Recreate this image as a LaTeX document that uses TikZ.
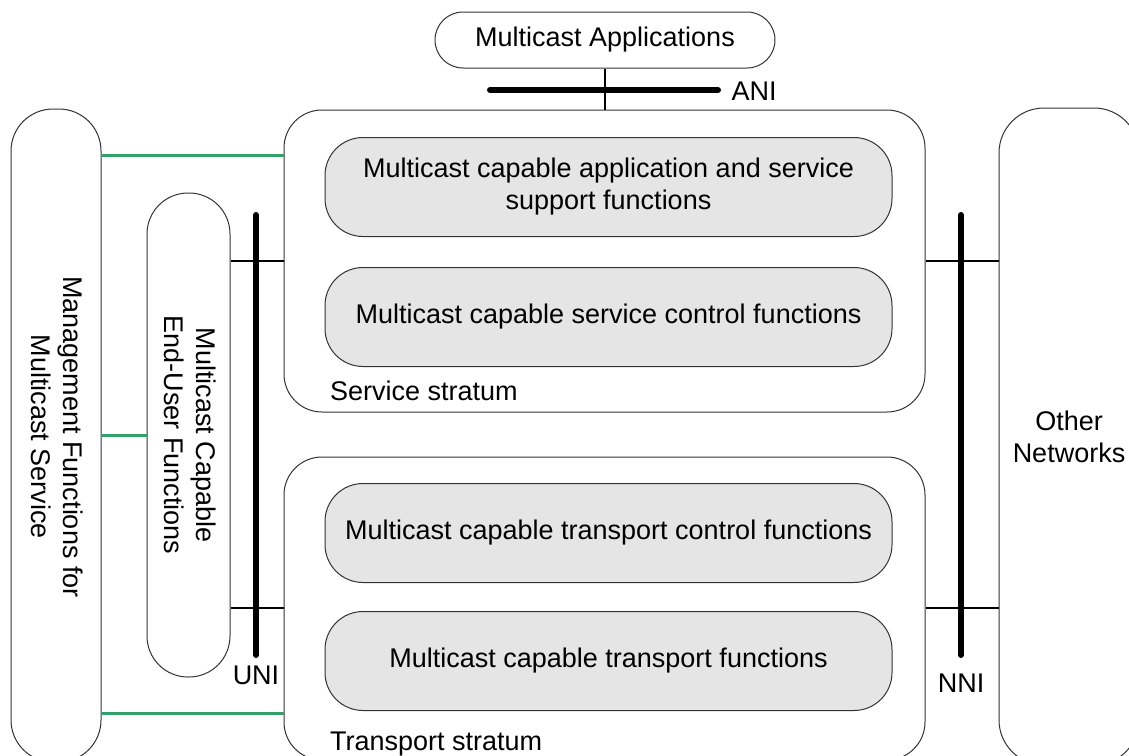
\documentclass[tikz,border=0pt]{standalone}
\usepackage{fontspec}
\setmainfont{Liberation Sans}
\definecolor{mgmtgreen}{RGB}{50,160,105}

\tikzset{%
  every box/.style={
    draw=black!80,
    line width=1pt,
    inner sep=0pt,
    align=center
  },
  func box/.style={
    every box,
    fill=black!10,
    rounded corners=38,
    minimum width=567,
    minimum height=99
  },
  stratum/.style={
    every box,
    rounded corners=38,
    minimum width=641
  },
  side box/.style={
    every box,
    rounded corners=42
  },
  link/.style={line width=1.3pt},
  mgmt link/.style={line width=3pt, mgmtgreen},
  iface/.style={line width=6pt, line cap=round},
}

\begin{document}
\begin{tikzpicture}[x=1pt, y=-1pt, font=\fontsize{27}{32}\selectfont]
\useasboundingbox (0,0) rectangle (1129,755);
\clip (0,0) rectangle (1129,755);

\node [every box, rounded corners=28, minimum width=340, minimum height=56] (apps) at (605,40) {Multicast Applications};

\node [stratum, minimum height=302] (svc) at (604.5,261) {};
\node [stratum, minimum height=303] (trn) at (604.5,608.5) {};

\foreach \n/\y/\t in {asf/187/{Multicast capable application and service\\support functions},
                      scf/317/{Multicast capable service control functions},
                      tcf/533/{Multicast capable transport control functions},
                      tf/661/{Multicast capable transport functions}}
  \node [func box] (\n) at (608.5,\y) {\t};

\node [anchor=west, inner sep=0pt] (svc-label) at (330,391) {Service stratum};
\node [anchor=base west, inner sep=0pt] (trn-label) at (330,750) {Transport stratum};

\node [side box, minimum width=90, minimum height=653] (mgmt) at (56,435.5) {};
\node [side box, rounded corners=41, minimum width=83, minimum height=484] (eu) at (188.5,435) {};
\node [side box, rounded corners=45, minimum width=140, minimum height=657] (other) at (1069,436.5) {Other\\Networks};

\node [rotate=-90, align=center] (mgmt-label) at (57,437) {Management Functions for\\Multicast Service};
\node [rotate=-90, align=center] (eu-label) at (190,435) {Multicast Capable\\End-User Functions};

% interfaces
\draw [link] (apps.south) -- (apps.south |- svc.north);
\draw [iface] (490,90) -- (718,90);
\node (ani) at (754,91) {ANI};

\draw [iface] (256,215) -- (256,655);
\node (uni) at (256,675) {UNI};

\draw [iface] (961,215) -- (961,655);
\node (nni) at (961,683) {NNI};

\draw [link] (eu.east |- 0,261) -- (svc.west |- 0,261);
\draw [link] (eu.east |- 0,608) -- (trn.west |- 0,608);
\draw [link] (svc.east |- 0,261) -- (other.west |- 0,261);
\draw [link] (trn.east |- 0,608) -- (other.west |- 0,608);

\draw [mgmt link] (mgmt.east |- 0,155) -- (svc.west |- 0,155);
\draw [mgmt link] (mgmt.east |- 0,435) -- (eu.west |- 0,435);
\draw [mgmt link] (mgmt.east |- 0,713) -- (trn.west |- 0,713);

\end{tikzpicture}
\end{document}
